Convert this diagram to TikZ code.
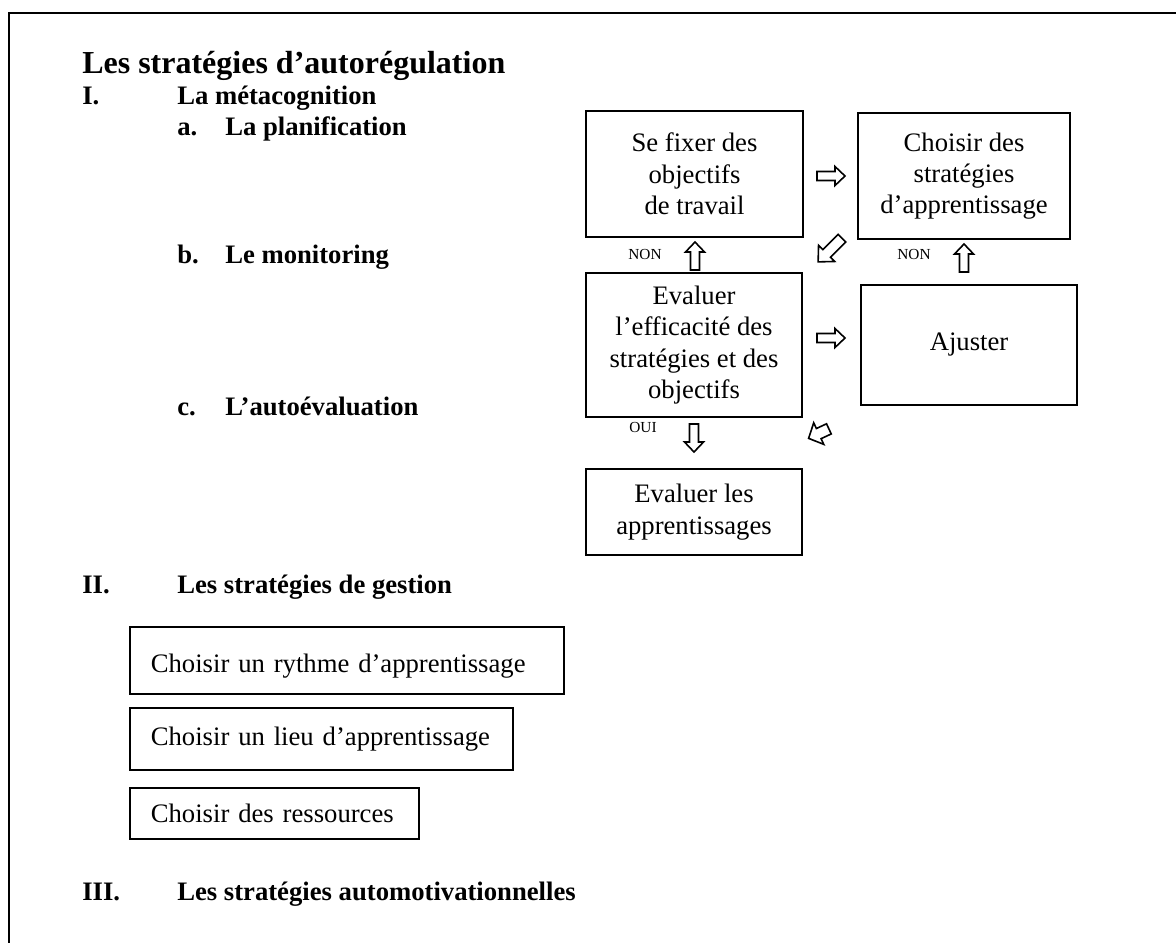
\documentclass[tikz,border=0pt]{standalone}
\usepackage{fontspec}
\setmainfont{Liberation Serif}
\begin{document}
\begin{tikzpicture}[x=0.75pt,y=0.75pt,
  every node/.style={inner sep=0pt},
  flowbox/.style={draw,line width=1.3pt,align=center,font=\fontsize{20}{23.5}\selectfont},
  gestbox/.style={draw,line width=1.3pt,anchor=north west,align=left,inner xsep=15.75pt,inner ysep=0pt,font=\fontsize{20}{23.5}\selectfont},
  head/.style={anchor=base west,font=\fontsize{20}{24}\selectfont\bfseries},
  titre/.style={anchor=base west,font=\fontsize{24}{28}\selectfont\bfseries},
  petit/.style={anchor=base,font=\fontsize{11.5}{13}\selectfont},
  arrowshape/.style={draw,fill=white,line width=1.2pt,line join=miter},
  barrow/.pic={\draw[arrowshape] (-14,-4.5) -- (4,-4.5) -- (4,-9.5) -- (14,0) -- (4,9.5) -- (4,4.5) -- (-14,4.5) -- cycle;},
  barrowshort/.pic={\draw[arrowshape] (-7,-4) -- (1,-4) -- (1,-8.5) -- (9,0) -- (1,8.5) -- (1,4) -- (-7,4) -- cycle;}
]
\useasboundingbox (0,0) rectangle (1176,-943);
\fill[white] (0,0) rectangle (1176,-943);
% frame
\draw[line width=1.5pt] (1176,-12.5) -- (9,-12.5) -- (9,-943);

% headings
\node[titre] (t0) at (82,-73) {Les stratégies d’autorégulation};
\node[head] (n1) at (82,-104) {I.};
\node[head] (h1) at (177,-104) {La métacognition};
\node[head] (na) at (177,-135) {a.};
\node[head] (ha) at (225,-135) {La planification};
\node[head] (nb) at (177,-263) {b.};
\node[head] (hb) at (225,-263) {Le monitoring};
\node[head] (nc) at (177,-415) {c.};
\node[head] (hc) at (225,-415) {L’autoévaluation};
\node[head] (n2) at (82,-593) {II.};
\node[head] (h2) at (177,-593) {Les stratégies de gestion};
\node[head] (n3) at (82,-900) {III.};
\node[head] (h3) at (177,-900) {Les stratégies automotivationnelles};

% flow boxes
\node[flowbox,minimum width=162.75pt,minimum height=94.5pt] (fix) at (694.5,-174) {Se fixer des\\objectifs\\de travail};
\node[flowbox,minimum width=159pt,minimum height=94.5pt] (choix) at (964,-176) {Choisir des\\stratégies\\d’apprentissage};
\node[flowbox,minimum width=162pt,minimum height=108pt] (eval) at (694,-345) {Evaluer\\l’efficacité des\\stratégies et des\\objectifs};
\node[flowbox,minimum width=162pt,minimum height=90pt] (ajust) at (969,-345) {Ajuster};
\node[flowbox,minimum width=162pt,minimum height=64.5pt] (evapp) at (694,-512) {Evaluer les\\apprentissages};

% block arrows
\pic at (831,-176) {barrow};
\pic[rotate=225,scale=1.2] at (830,-250) {barrow};
\pic[rotate=90] at (695,-256) {barrow};
\pic[rotate=90] at (964,-258) {barrow};
\pic at (831,-338) {barrow};
\pic[rotate=-90] at (694,-438) {barrow};
\pic[rotate=205,scale=1.4] at (820,-433) {barrowshort};

% labels
\node[petit] (non1) at (645,-259) {NON};
\node[petit] (non2) at (914,-259) {NON};
\node[petit] (oui) at (643,-432) {OUI};

% gestion boxes
\node[gestbox,minimum width=325.5pt,text width=294pt,text height=34.5pt,text depth=15.75pt] (g1) at (129,-626) {Choisir un rythme d’apprentissage};
\node[gestbox,minimum width=287.25pt,text width=255.75pt,text height=28.5pt,text depth=18pt] (g2) at (129,-707) {Choisir un lieu d’apprentissage};
\node[gestbox,minimum width=216.75pt,text width=185.25pt,text height=26.25pt,text depth=12pt] (g3) at (129,-787) {Choisir des ressources};
\end{tikzpicture}
\end{document}
